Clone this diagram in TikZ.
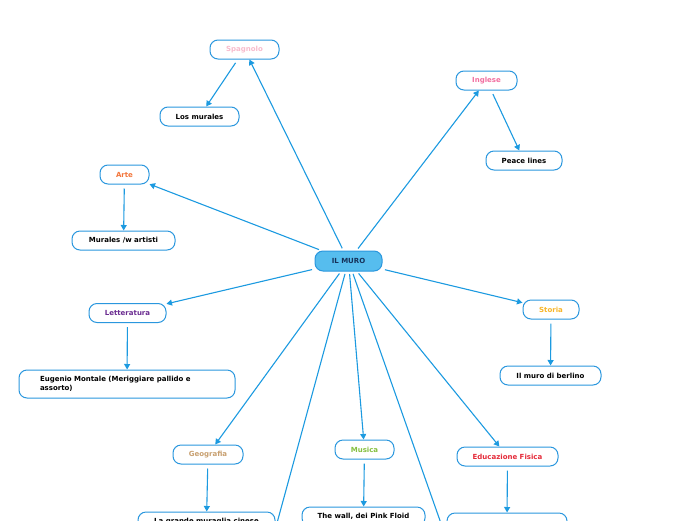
\documentclass[tikz,border=0pt]{standalone}
\usepackage{fontspec}
\setmainfont{DejaVu Sans}
\usetikzlibrary{arrows.meta}
\definecolor{lnblue}{HTML}{1C9AE0}
\definecolor{bdblue}{HTML}{2A97DE}
\definecolor{cfill}{HTML}{56BDEE}
\definecolor{cnavy}{HTML}{16325A}
\definecolor{cspag}{HTML}{F8BCCD}
\definecolor{cingl}{HTML}{F26FA0}
\definecolor{carte}{HTML}{F3753A}
\definecolor{clett}{HTML}{6B2C91}
\definecolor{cstor}{HTML}{F8B62A}
\definecolor{cgeo}{HTML}{C8A070}
\definecolor{cmus}{HTML}{86C040}
\definecolor{cedu}{HTML}{E52B3A}
\begin{document}
\begin{tikzpicture}[x=1pt,y=-1pt,
  box/.style={rectangle,rounded corners=8pt,draw=bdblue,line width=1pt,fill=white,
    minimum height=19pt,inner sep=0pt,font=\fontsize{7}{9.5}\selectfont\bfseries},
  root/.style={box,fill=cfill,draw=bdblue,minimum height=20pt,text=cnavy},
  link/.style={draw=lnblue,line width=1.1pt,-{Triangle[length=5.5pt,width=6pt]},shorten <=2.5pt},
  sublink/.style={link,shorten <=4pt}]
\useasboundingbox (0,0) rectangle (696,520);
\clip (0,0) rectangle (696,520);
\node[root,minimum width=67pt] (muro) at (348.5,261) {IL MURO};
\node[box,minimum width=69pt,text=cspag] (spa) at (244.5,49.5) {Spagnolo};
\node[box,minimum width=79pt] (losm) at (199.5,116.5) {Los murales};
\node[box,minimum width=61pt,text=cingl] (ing) at (486.5,80.5) {Inglese};
\node[box,minimum width=76pt] (peace) at (524,160.5) {Peace lines};
\node[box,minimum width=49pt,text=carte] (arte) at (124.5,174.5) {Arte};
\node[box,minimum width=103pt] (mura) at (123.5,240.5) {Murales /w artisti};
\node[box,minimum width=77pt,text=clett] (lett) at (127.5,313) {Letteratura};
\node[box,minimum height=28pt,text width=174pt,inner xsep=21pt,align=left] (eug) at (127,384)
  {Eugenio Montale (Meriggiare pallido e\\assorto)};
\node[box,minimum width=56pt,text=cstor] (stor) at (551,309.5) {Storia};
\node[box,minimum width=101pt] (berl) at (550.5,375.5) {Il muro di berlino};
\node[box,minimum width=70pt,text=cgeo] (geo) at (208,454.5) {Geografia};
\node[box,minimum width=137pt] (cina) at (206.5,521.5) {La grande muraglia cinese};
\node[box,minimum width=59pt,text=cmus] (mus) at (364.5,449.5) {Musica};
\node[box,minimum width=123pt] (wall) at (363.5,516.5) {The wall, dei Pink Floid};
\node[box,minimum width=101pt,text=cedu] (edu) at (507.5,456.5) {Educazione Fisica};
\node[box,minimum width=120pt] (edc) at (507,522.5) {};
\coordinate (offl) at (256,600);
\coordinate (offr) at (468,600);
\draw[link] (muro) -- (spa);
\draw[link] (muro) -- (ing);
\draw[link] (muro) -- (arte);
\draw[link] (muro) -- (lett);
\draw[link] (muro) -- (stor);
\draw[link] (muro) -- (geo);
\draw[link] (muro) -- (mus);
\draw[link] (muro) -- (edu);
\draw[link,-] (muro) -- (offl);
\draw[link,-] (muro) -- (offr);
\draw[sublink] (spa) -- (losm);
\draw[sublink] (ing) -- (peace);
\draw[sublink] (arte) -- (mura);
\draw[sublink] (lett) -- (eug);
\draw[sublink] (stor) -- (berl);
\draw[sublink] (geo) -- (cina);
\draw[sublink] (mus) -- (wall);
\draw[sublink] (edu) -- (edc);
\end{tikzpicture}
\end{document}
